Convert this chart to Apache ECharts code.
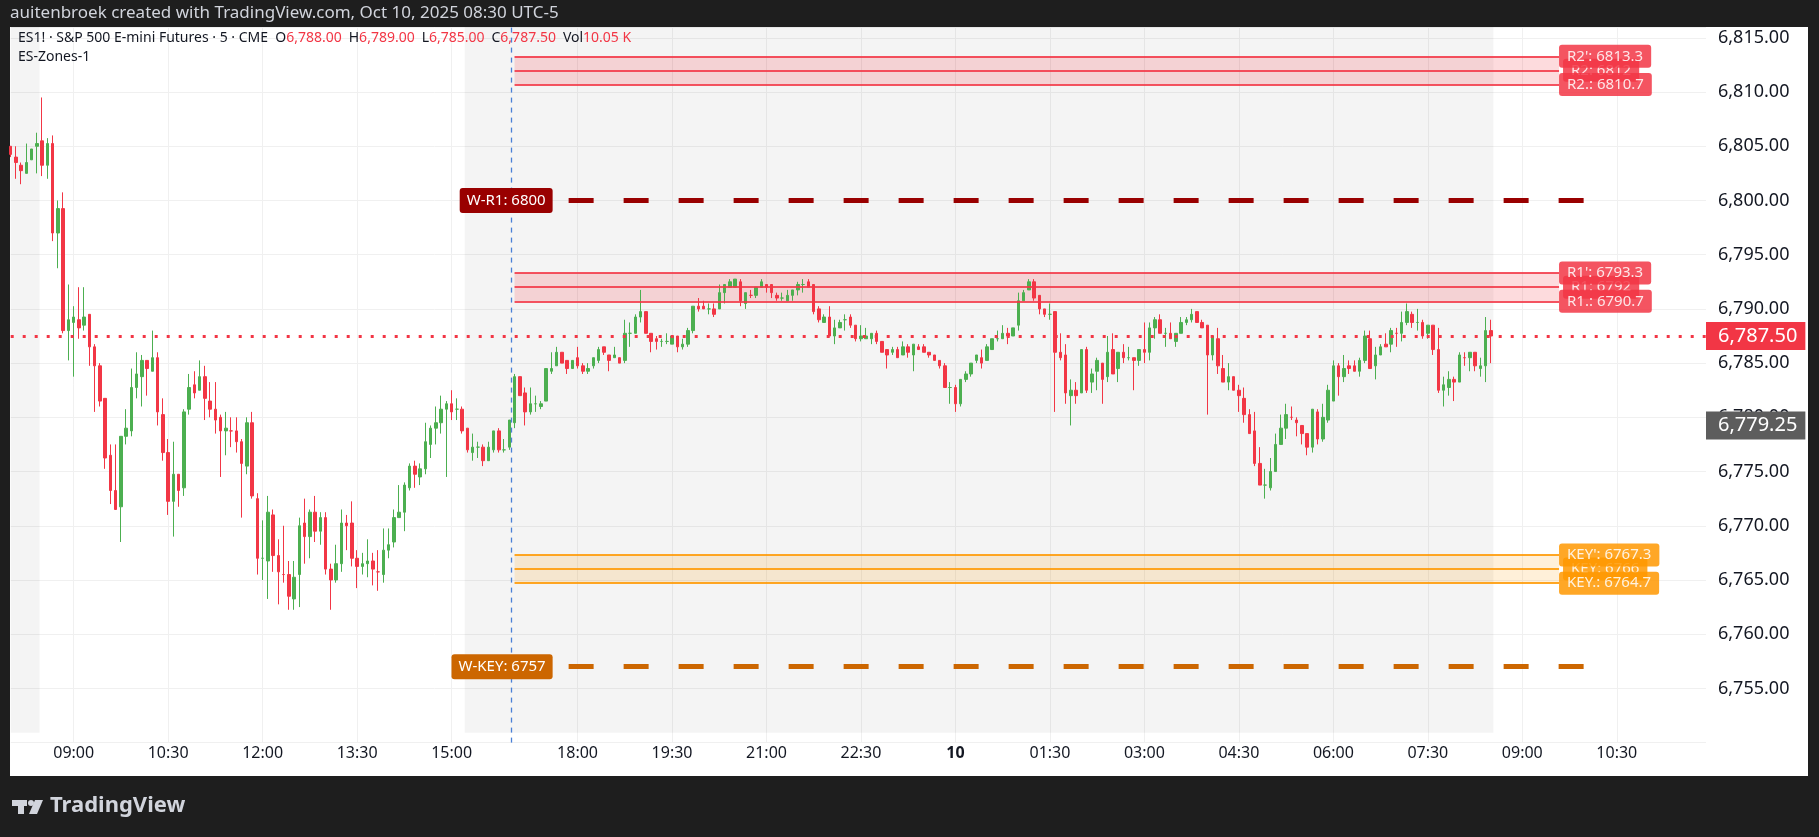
<!DOCTYPE html>
<html>
<head>
<meta charset="utf-8">
<script src="https://cdn.jsdelivr.net/npm/echarts@6/dist/echarts.min.js"></script>
<style>
html,body{margin:0;padding:0;background:#1e1e1e;}
#chart{width:1819px;height:837px;}
</style>
</head>
<body>
<div id="chart"></div>
<script>
// ES1! 5 min bars, Oct 9 08:00 -> Oct 10 08:30 (UTC-5)
var opens = [6805,6804,6803.25,6802.5,6803.75,6805,6805.5,6803.25,6805.25,6797,6799.25,6788,6788.75,6789,6788.5,6789.5,6786.5,6784.75,6781.75,6776.5,
6773.25,6771.75,6778.25,6778.75,6782.75,6783.75,6785.25,6784.25,6785.5,6780.25,6776.75,6772.25,6774.75,6773.5,6780.75,6783,6782.5,6783.75,6781.5,6780.75,
6780,6778.75,6778.75,6778.75,6777.75,6775.5,6779.5,6772.5,6767,6766.75,6771,6767.25,6765.5,6765.5,6763.25,6765.5,6770.25,6769,6771.25,6769.5,
6770.75,6766,6765,6766.5,6770.25,6770.25,6767,6766.25,6766.5,6766.75,6765.75,6765.5,6767.75,6768.5,6770.75,6771.25,6773.5,6775.5,6774.5,6775.25,
6777.5,6779,6779.5,6780.75,6781.25,6780.75,6780.75,6779,6776.75,6777.25,6777.25,6776,6777,6778.75,6777,6777.25,6779.5,6783.75,6782.25,6780.5,
6781.25,6781,6781.5,6784.25,6784.75,6786,6785.25,6784.5,6785.5,6784.75,6784.25,6784.75,6785.25,6786.5,6785.75,6785.5,6785.5,6785.25,6787.75,6787.75,
6789.25,6789.75,6787.75,6787.25,6787,6787,6786.75,6787.5,6786.5,6786.75,6788,6790.25,6790.25,6790,6790,6790,6791.5,6792,6792,6792.5,
6790.5,6791.25,6791.25,6792,6792.25,6792.25,6791.25,6791,6790.75,6791.25,6791.75,6792.25,6792.5,6792.25,6790,6788.75,6789.25,6787.5,6788.25,6789,
6789.25,6788.5,6787.25,6787.25,6787.25,6787.75,6787,6786.25,6786,6786.25,6785.75,6786.5,6785.75,6786.5,6786.5,6786,6785.75,6785.25,6784.75,6782.75,
6782.75,6781.25,6783.5,6784,6785.25,6785.5,6785.25,6786.25,6787.25,6787.25,6787.75,6787.5,6788.5,6790.75,6791.75,6792.5,6791.25,6790,6789.5,6789.75,
6786,6785.75,6782,6782.5,6782.25,6786.25,6783.25,6784.25,6785,6783.75,6786.25,6784.5,6786,6785.5,6785.5,6785.25,6786.25,6786,6788.25,6789,
6787.75,6787.75,6787,6787.75,6788.75,6789,6789.75,6788.75,6788.5,6785.75,6787.25,6784.5,6783.25,6783.75,6782.5,6781.75,6780.25,6778.75,6775.75,6773.75,
6773.5,6775,6777.5,6779,6780,6779.75,6779.25,6778.5,6777.25,6780.5,6778,6779.75,6781.5,6784.75,6783.75,6784.75,6784.75,6784.25,6785.25,6787.25,
6784.75,6785.75,6786.75,6786.75,6787.75,6787.75,6788.75,6789.5,6788.75,6788.75,6787.75,6788.5,6786.25,6782.5,6782.75,6783.5,6783.25,6785.5,6785.5,6786,
6784.5,6784.75,6788];
var highs = [6805,6805,6803.5,6805.25,6804.75,6806.25,6809.5,6805.75,6806,6800,6800.75,6792.25,6790.25,6792,6792,6789.5,6786.75,6785,6781.75,6777.5,
6777.5,6778.25,6780.75,6784.5,6786,6785.75,6785.25,6788,6786,6781.75,6778,6777.75,6774.75,6780.75,6784,6784.25,6785.25,6784.75,6783.25,6783.25,
6780.25,6780.5,6780,6780,6778,6780,6780.5,6773,6770.5,6772.75,6771.5,6768.75,6770,6766.75,6766.75,6770.75,6772.5,6771.5,6772.75,6771.25,
6771.25,6766.5,6768.25,6771.5,6771,6772.25,6767.75,6767.5,6768.75,6767.5,6767.75,6769.75,6769.75,6771.5,6773.75,6774,6775.75,6776,6775.75,6779.5,
6779.25,6781,6782,6781.5,6782.5,6781.75,6781,6779,6778.5,6777.75,6777.5,6777.75,6778.75,6779,6778,6779.75,6784,6783.75,6782.75,6782.75,
6782,6781.5,6784.5,6786,6786.5,6786,6785.25,6785.25,6786.5,6785,6785,6785.5,6786.5,6786.5,6785.75,6786.5,6785.5,6789,6788.75,6789.5,
6791.75,6789.75,6787.75,6787.5,6787.25,6787.75,6787.5,6787.5,6787.25,6788.25,6790.25,6791,6790.75,6790.5,6790.5,6792.25,6792.25,6792.75,6792.75,6792.75,
6791.5,6791.75,6792,6792.75,6792.25,6792.25,6791.5,6791.5,6791.75,6791.75,6792.5,6792.75,6792.75,6792.25,6790.25,6789.5,6790.25,6789,6789,6789.5,
6789.5,6788.5,6788.5,6788.25,6787.75,6788,6787,6786.25,6786.5,6786.5,6787,6786.75,6786.75,6786.75,6786.75,6786,6785.75,6785.25,6785,6783.25,
6783,6783.5,6784.25,6785,6785.75,6786.25,6786.75,6787.25,6788,6788.5,6788.25,6788.25,6791.5,6791.75,6792.75,6792.75,6791.25,6790,6790.5,6789.75,
6787.75,6786.75,6783.5,6783.25,6786.25,6786.5,6784.5,6785.5,6785,6787.5,6787.75,6786,6786.75,6786.5,6785.5,6786.25,6788.75,6788.75,6789.25,6789.5,
6788.25,6788.75,6787.75,6789.25,6789.25,6790,6789.75,6789,6788.5,6787.5,6788.25,6785.75,6785,6783.75,6783,6782.75,6780.75,6780.5,6777.25,6775.25,
6776.25,6778.5,6780.25,6781.25,6781,6780,6779.25,6778.5,6780.75,6780.75,6781.25,6783,6785.25,6785,6785.75,6785.25,6785.25,6785.5,6788,6788,
6786.5,6786.75,6787.75,6788.25,6788.25,6789.75,6790.5,6789.75,6790,6789,6788.5,6788.5,6788.25,6783.75,6784.25,6783.75,6786,6786,6786,6786,
6785.5,6789.25,6789];
var lows = [6804,6802,6801.5,6802.5,6803.75,6802.5,6802.25,6802,6796.25,6793.75,6787.75,6785.25,6783.75,6787.25,6788,6784.75,6780.5,6781,6775.25,6772,
6771.5,6768.5,6777.5,6778.25,6781.75,6781,6782,6784.25,6779.25,6776,6771,6769,6771.75,6772.75,6780.25,6781.75,6782.5,6779.75,6780,6778.5,
6774.5,6776.5,6777.25,6776.75,6770.75,6774.75,6772.5,6765.5,6765,6763.25,6765.75,6762.75,6764.75,6762.25,6762.25,6762.5,6766.5,6767,6768.5,6768.25,
6765.5,6762.25,6764.75,6765.75,6767.75,6766.25,6764.25,6765.5,6765.25,6764.5,6764,6764.75,6767,6768,6770.75,6769.5,6773.25,6773.5,6773.75,6774.75,
6776.25,6777.5,6778.5,6774.5,6779.75,6779.75,6778.5,6776.75,6776,6776.25,6775.5,6776,6776.75,6776.75,6776.75,6777,6779,6782,6779.25,6780.25,
6780.5,6780.75,6781.5,6784,6784.75,6785,6784,6784.5,6784.5,6784,6784,6784.5,6785,6785.75,6784.25,6785.5,6785,6785,6786.5,6787.75,
6788.75,6787.75,6786,6786.25,6786.5,6786.75,6786.75,6786,6786.25,6786.5,6787.75,6789.75,6790,6789.5,6789.25,6790,6790.5,6792,6792,6790.25,
6790,6791,6791,6792,6791.5,6791,6790.75,6790.75,6790.75,6790.75,6791.25,6791.5,6792,6789.5,6788.75,6788.75,6787.5,6786.75,6788.25,6788,
6788.25,6787,6787,6787.25,6786.75,6786.75,6786,6784.5,6785.75,6785.5,6785.75,6785.5,6784.25,6786.25,6786,6785.5,6785.25,6784.5,6782.75,6781.25,
6780.5,6781,6783.25,6783.75,6785,6784.5,6785.25,6786.25,6787,6787.25,6786.75,6787.5,6788,6790.75,6791.75,6790.75,6789.5,6789.25,6789,6780.5,
6785.25,6781.25,6779.25,6781.25,6782.25,6782.25,6782.25,6782.5,6781.25,6783.25,6784,6783.25,6785,6785.25,6782.5,6784.75,6785,6785.25,6787.25,6787.75,
6786.5,6787.25,6786.5,6787.75,6788.5,6788.75,6788.75,6788.25,6780.25,6785.25,6784,6783.25,6782.5,6782.5,6780.5,6779.5,6778.5,6775.5,6773.75,6772.5,
6773.25,6775,6777.5,6778,6779.75,6778.25,6777.5,6776.5,6776.75,6777.5,6777.75,6779.5,6781.5,6782,6783.25,6784,6784.25,6783.75,6785,6784.5,
6783.5,6785.75,6786.5,6786,6786.5,6787,6788.5,6788.25,6788,6787.25,6787.25,6785.75,6782.25,6781,6782,6781.5,6783.25,6784.75,6784.25,6784.25,
6783.75,6783.25,6785];
var closes = [6804.25,6803.5,6802.75,6803.5,6804.75,6805.25,6803.25,6805.25,6797,6799.25,6788,6789,6789.25,6788.25,6789.25,6786.5,6784.75,6781.5,6776.25,6773.25,
6771.5,6778.25,6779,6782.75,6784,6785.25,6784.5,6785.5,6780.5,6776.75,6772.25,6774.75,6773.25,6780.5,6782.75,6782.25,6783.75,6781.75,6780.75,6779.75,
6778.75,6779,6778.75,6777.75,6775.75,6779.5,6772.75,6767,6767,6771.25,6767.25,6765.75,6765.5,6763.5,6765.25,6770,6769,6771.25,6769.5,6770.75,
6766,6765,6766.5,6770.25,6770,6767,6766.25,6766.5,6766.75,6766,6765.75,6767.75,6768.25,6770.75,6771.25,6773.75,6775.5,6774.75,6775.25,6777.75,
6779,6779.5,6780.75,6781.25,6780.5,6780.75,6778.75,6777,6777.25,6777.25,6776,6777.25,6778.75,6777,6777,6779.75,6783.75,6782,6780.5,6781.25,
6781.25,6781.25,6784.5,6784.5,6786,6785,6784.5,6785.25,6784.75,6784.25,6784.5,6785.5,6786.25,6786,6785.25,6785.75,6785,6787.75,6787.75,6789.25,
6789.75,6787.75,6787,6787,6787,6787,6787.5,6786.5,6786.75,6788,6790.25,6790,6790,6790,6789.5,6791.5,6792.25,6792.5,6792.75,6790.75,
6791.5,6791.25,6792,6792.5,6792,6791.5,6791,6791,6791.25,6791.75,6792.25,6792.25,6792,6789.75,6789,6789.25,6787.5,6788.25,6788.75,6789,
6788.5,6787.25,6787.5,6787.5,6787.75,6787,6786,6785.75,6786.25,6785.5,6786.5,6786,6786.75,6786.25,6786,6785.75,6785.25,6784.75,6782.75,6782.75,
6781.25,6783.5,6784,6785,6785.75,6785,6786.5,6787.25,6787.25,6787.75,6787.5,6788.25,6790.75,6791.5,6792.5,6791,6790,6789.5,6789.5,6786,
6785.5,6782.25,6782.5,6782,6786.25,6782.5,6784,6785.25,6783.5,6786,6784,6786,6785.5,6785.5,6785.25,6786.25,6786,6788.25,6789,6787.75,
6787.75,6787.25,6787.75,6788.75,6789,6789.5,6788.75,6788.25,6785.75,6787.5,6784.75,6783.25,6783.75,6782.5,6782,6780.25,6778.5,6775.75,6773.75,6773.75,
6775,6777.5,6779,6780.25,6780,6779.5,6778.5,6777.25,6780.75,6778,6780,6782.5,6784.75,6783.75,6784.5,6784.5,6784.25,6785.25,6787.5,6784.5,
6785.75,6786.5,6786.5,6788,6787.75,6788.75,6789.75,6788.75,6788.75,6787.5,6788.5,6786.25,6782.5,6783,6783.5,6783.25,6785.75,6785.5,6786,6784.75,
6784.75,6788,6787.5];

var tickLabels = ['09:00','10:30','12:00','13:30','15:00','18:00','19:30','21:00','22:30','00:00','01:30','03:00','04:30','06:00','07:30'];
var zones = [
  {name:'R2', hi:6813.3, mid:6812, lo:6810.7, color:'#f23645', fill:'rgba(242,54,69,0.18)'},
  {name:'R1', hi:6793.3, mid:6792, lo:6790.7, color:'#f23645', fill:'rgba(242,54,69,0.18)'},
  {name:'KEY', hi:6767.3, mid:6766, lo:6764.7, color:'#ff9800', fill:'rgba(255,152,0,0.15)'}
];
var weekly = [
  {name:'W-R1', value:6800, color:'#990000'},
  {name:'W-KEY', value:6757, color:'#cc6600'}
];
var lastPrice = 6787.5;
var greyPrice = 6779.25;

// time categories: day session, then globex from 17:00 into the next day
var cats = [];
function hhmm(m){ var h = Math.floor(m/60)%24, mm = m%60; return (h<10?'0':'')+h+':'+(mm<10?'0':'')+mm; }
for (var m = 480; m <= 955; m += 5) cats.push(hhmm(m));
for (var m = 1020; cats.length < 324; m += 5) cats.push(hhmm(m));
var N = cats.length - 1;

var candles = opens.map(function(o, i){ return [o, closes[i], lows[i], highs[i]]; });

var fmt = function(v){ return v.toLocaleString('en-US',{minimumFractionDigits:2, maximumFractionDigits:2}); };

var zoneLines = [], zoneAreas = [];
var zStart = 96, zEnd = 295;
zones.forEach(function(z){
  zoneAreas.push([{coord:[zStart, z.hi], itemStyle:{color:z.fill}}, {coord:[zEnd, z.lo]}]);
  [[z.mid, z.name + ': ' + Math.round(z.mid), 4], [z.hi, z.name + "': " + z.hi, 0], [z.lo, z.name + '.: ' + z.lo, 0]].forEach(function(l){
    zoneLines.push([{coord:[zStart, l[0]], lineStyle:{color:z.color, width:2, type:'solid', opacity:0.85},
      label:{show:true, position:'end', distance:l[2], formatter:l[1], color:'#fff', fontSize:15, fontFamily:'Noto Sans',
        backgroundColor:z.color, padding:[4,8], borderRadius:3}}, {coord:[zEnd, l[0]]}]);
  });
});
weekly.forEach(function(w){
  zoneLines.push([{coord:[106.3, w.value], lineStyle:{color:w.color, width:5, type:[25,30]},
    label:{show:true, position:'start', distance:16, formatter:w.name + ': ' + w.value, color:'#fff', fontSize:15, fontFamily:'Noto Sans',
      backgroundColor:w.color, padding:[5,7], borderRadius:3}}, {coord:[300, w.value]}]);
});
zoneLines.push([{coord:[95.4, 6750], lineStyle:{color:'#4a80d6', width:1.3, type:[5,5]}, label:{show:false}}, {coord:[95.4, 6816]}]);
zoneLines.push([{coord:[0, greyPrice], lineStyle:{color:'rgba(0,0,0,0)', width:0},
  label:{show:true, position:'end', distance:0, formatter:fmt(greyPrice), color:'#fff', fontSize:20, fontFamily:'Noto Sans',
    backgroundColor:'#5d5d5d', padding:[4,8,4,12]}}, {coord:[N, greyPrice]}]);
zoneLines.push([{coord:[0, lastPrice], lineStyle:{color:'#f23645', width:3, type:[3,9]},
  label:{show:true, position:'end', distance:0, formatter:fmt(lastPrice), color:'#fff', fontSize:20, fontFamily:'Noto Sans',
    backgroundColor:'#f23645', padding:[4,8,4,12]}}, {coord:[N, lastPrice]}]);

var chart = echarts.init(document.getElementById('chart'));
var option = {
  backgroundColor:'#1e1e1e',
  animation:false,
  graphic:[
    {type:'rect', z:-10, shape:{x:10, y:27, width:1798, height:749}, style:{fill:'#ffffff'}},
    {type:'text', left:10, top:5, style:{text:'auitenbroek created with TradingView.com, Oct 10, 2025 08:30 UTC-5', fill:'#d1d4dc', font:'17px "Noto Sans"'}},
    {type:'text', left:18, top:31, z:50, style:{
      text:'{k|ES1! · S&P 500 E-mini Futures · 5 · CME  O}{v|6,788.00} {k| H}{v|6,789.00} {k| L}{v|6,785.00} {k| C}{v|6,787.50} {k| Vol}{v|10.05 K}',
      rich:{k:{fill:'#131722', font:'14px "Noto Sans"'}, v:{fill:'#f23645', font:'14px "Noto Sans"'}}}},
    {type:'text', left:18, top:50, z:50, style:{text:'ES-Zones-1', fill:'#131722', font:'14px "Noto Sans"'}},
    {type:'rect', shape:{x:12, y:800, width:15, height:6}, style:{fill:'#d1d4dc'}},
    {type:'rect', shape:{x:18, y:800, width:6, height:14}, style:{fill:'#d1d4dc'}},
    {type:'circle', shape:{cx:31, cy:803, r:3}, style:{fill:'#d1d4dc'}},
    {type:'polygon', shape:{points:[[35,800],[43,800],[37,814],[29,814]]}, style:{fill:'#d1d4dc'}},
    {type:'text', left:50, top:795, style:{text:'TradingView', fill:'#d1d4dc', font:'bold 22px "Noto Sans"'}}
  ],
  grid:{left:10.7, right:113, top:27, bottom:94.4, containLabel:false},
  xAxis:[{
    type:'category', data:cats, boundaryGap:false,
    axisLine:{show:false}, axisTick:{show:false},
    axisLabel:{margin:3, fontSize:16, fontFamily:'Noto Sans', color:'#131722',
      interval:function(i, v){ return tickLabels.indexOf(v) >= 0; },
      formatter:function(v){ return v === '00:00' ? '{b|10}' : v; },
      rich:{b:{fontSize:16, fontWeight:'bold', fontFamily:'Noto Sans', color:'#131722'}}},
    splitLine:{show:true, interval:function(i, v){ return tickLabels.indexOf(v) >= 0; }, lineStyle:{color:'#f0f0f0'}}
  },{
    type:'value', min:0, max:N, show:false
  }],
  yAxis:{
    type:'value', position:'right', min:6750, max:6816, interval:5, scale:true,
    axisLine:{show:false}, axisTick:{show:false},
    axisLabel:{margin:12, fontSize:18, fontFamily:'Noto Sans', color:'#131722', showMinLabel:false, showMaxLabel:false,
      formatter:function(v){ return fmt(v); }},
    splitLine:{lineStyle:{color:'#f0f0f0'}}
  },
  series:[{
    type:'line', xAxisIndex:1, data:[[0, 6816]], symbol:'none', lineStyle:{opacity:0}, silent:true, z:1,
    markArea:{silent:true, data:[
      [{coord:[-1, 6750.9], itemStyle:{color:'rgba(0,0,0,0.045)'}}, {coord:[5.5, 6816]}],
      [{coord:[86.5, 6750.9], itemStyle:{color:'rgba(0,0,0,0.045)'}}, {coord:[282.5, 6816]}]
    ]}
  },{
    type:'candlestick', data:candles, barWidth:3, z:3,
    itemStyle:{color:'#4caf50', color0:'#f23645', borderColor:'#4caf50', borderColor0:'#f23645', borderWidth:1}
  },{
    type:'line', xAxisIndex:1, data:[[0, 6816]], symbol:'none', lineStyle:{opacity:0}, silent:true, z:5,
    markArea:{silent:true, data:zoneAreas},
    markLine:{silent:true, symbol:['none','none'], data:zoneLines}
  }]
};
chart.setOption(option);
</script>
</body>
</html>
